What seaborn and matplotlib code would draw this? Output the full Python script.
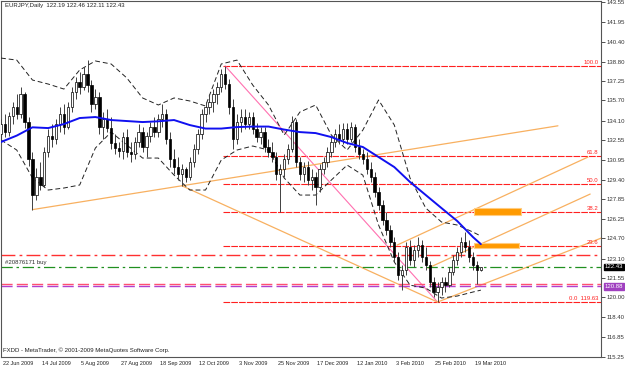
import matplotlib
matplotlib.use("Agg")
import matplotlib.pyplot as plt
import matplotlib.transforms as mtransforms
from matplotlib.patches import Rectangle
import numpy as np
import pandas as pd
import seaborn as sns

# ---------------- data ----------------
opens = [133.0, 133.8, 133.2, 134.5, 135.2, 134.6, 136.2, 134.0, 131.0, 128.2,
         129.6, 129.0, 131.6, 132.9, 132.6, 133.8, 134.6, 133.6, 135.2, 136.4,
         137.2, 136.8, 137.8, 136.9, 135.4, 136.0, 133.6, 134.2, 133.5, 132.3,
         131.9, 131.7, 132.8, 131.6, 131.4, 132.4, 133.2, 132.0, 132.9, 133.6,
         133.2, 134.2, 134.6, 132.6, 131.0, 130.4, 129.8, 130.2, 129.6, 130.8,
         131.8, 133.0, 134.6, 135.2, 135.6, 136.2, 136.8, 137.8, 137.0, 135.2,
         132.6, 134.0, 134.4, 133.8, 134.4, 133.4, 132.8, 133.2, 132.0, 131.6,
         131.2, 129.8, 130.2, 131.0, 131.8, 134.0, 130.8, 129.8, 130.4, 129.4,
         129.6, 128.8, 130.2, 130.8, 131.6, 132.4, 133.0, 132.6, 133.4, 132.6,
         133.6, 132.0, 131.4, 131.0, 130.2, 129.6, 128.4, 127.4, 126.2, 125.4,
         124.4, 123.2, 121.8, 122.2, 124.0, 123.0, 123.8, 124.2, 123.2, 122.6,
         121.2, 120.4, 120.8, 121.2, 121.0, 122.0, 123.0, 123.6, 124.4, 124.0,
         123.2, 122.6, 122.19]
highs = [134.2, 134.6, 134.8, 135.6, 136.2, 136.8, 136.4, 134.4, 131.6, 130.3,
         130.8, 132.0, 133.4, 133.8, 134.2, 135.2, 135.4, 135.6, 136.8, 137.6,
         138.0, 138.4, 138.9, 137.3, 136.6, 136.4, 134.8, 135.0, 134.4, 133.0,
         132.4, 133.2, 133.4, 132.4, 132.8, 133.8, 133.6, 133.2, 134.0, 134.4,
         134.6, 135.4, 135.0, 133.2, 131.8, 131.2, 130.6, 130.4, 131.2, 132.2,
         133.4, 135.0, 135.6, 136.2, 136.6, 137.2, 138.2, 138.45, 137.4, 135.8,
         134.6, 135.0, 135.0, 134.8, 134.8, 133.9, 133.6, 133.6, 132.6, 132.4,
         131.6, 130.6, 131.4, 132.2, 134.5, 134.2, 131.2, 130.8, 130.9, 130.2,
         130.0, 130.6, 131.2, 132.0, 132.8, 133.4, 133.8, 133.9, 133.9, 134.0,
         133.8, 132.6, 131.8, 131.6, 130.8, 130.0, 128.8, 127.8, 126.8, 125.8,
         124.8, 123.6, 122.6, 124.4, 124.6, 124.2, 124.8, 124.6, 124.0, 122.9,
         121.6, 121.2, 121.6, 121.6, 122.4, 123.4, 124.0, 124.8, 125.2, 124.6,
         123.6, 122.9, 122.46]
lows = [132.4, 132.8, 132.9, 133.8, 134.2, 134.3, 133.5, 130.5, 127.0, 127.8,
        128.6, 128.8, 131.2, 132.0, 132.2, 133.2, 133.0, 133.4, 134.8, 135.8,
        136.2, 136.5, 136.4, 134.8, 135.0, 133.0, 132.6, 133.2, 131.8, 131.4,
        131.2, 131.0, 131.2, 130.8, 131.0, 132.0, 131.6, 131.2, 132.4, 132.8,
        132.8, 133.6, 132.2, 130.4, 129.8, 129.4, 128.9, 129.2, 129.4, 130.4,
        131.4, 132.6, 134.0, 134.6, 134.8, 135.4, 136.4, 136.6, 134.6, 131.8,
        132.2, 133.2, 133.4, 133.4, 133.0, 132.4, 132.2, 131.6, 131.2, 130.8,
        129.4, 126.8, 129.6, 130.6, 131.6, 130.4, 129.4, 129.2, 129.0, 128.6,
        127.4, 128.4, 129.8, 130.4, 131.2, 132.0, 132.2, 132.2, 132.2, 132.4,
        131.6, 131.0, 130.6, 129.8, 129.2, 128.0, 127.0, 125.8, 125.0, 124.0,
        122.8, 121.4, 120.6, 121.8, 122.6, 122.4, 123.2, 122.8, 122.2, 120.8,
        120.0, 119.63, 120.2, 120.4, 120.8, 121.8, 122.6, 123.2, 123.6, 122.8,
        122.2, 121.1, 122.11]
closes = [133.8, 133.2, 134.5, 135.2, 134.6, 136.2, 134.0, 131.0, 128.2, 129.6,
          129.0, 131.6, 132.9, 132.6, 133.8, 134.6, 133.6, 135.2, 136.4, 137.2,
          136.8, 137.8, 136.9, 135.4, 136.0, 133.6, 134.2, 133.5, 132.3, 131.9,
          131.7, 132.8, 131.6, 131.4, 132.4, 133.2, 132.0, 132.9, 133.6, 133.2,
          134.2, 134.6, 132.6, 131.0, 130.4, 129.8, 130.2, 129.6, 130.8, 131.8,
          133.0, 134.6, 135.2, 135.6, 136.2, 136.8, 137.8, 137.0, 135.2, 132.6,
          134.0, 134.4, 133.8, 134.4, 133.4, 132.8, 133.2, 132.0, 131.6, 131.2,
          129.8, 130.2, 131.0, 131.8, 134.0, 130.8, 129.8, 130.4, 129.4, 129.6,
          128.8, 130.2, 130.8, 131.6, 132.4, 133.0, 132.6, 133.4, 132.6, 133.6,
          132.0, 131.4, 131.0, 130.2, 129.6, 128.4, 127.4, 126.2, 125.4, 124.4,
          123.2, 121.8, 122.2, 124.0, 123.0, 123.8, 124.2, 123.2, 122.6, 121.2,
          120.4, 120.8, 121.2, 121.0, 122.0, 123.0, 123.6, 124.4, 124.0, 123.2,
          122.6, 122.2, 122.43]

date_labels = ["22 Jun 2009", "14 Jul 2009", "5 Aug 2009", "27 Aug 2009",
               "18 Sep 2009", "12 Oct 2009", "3 Nov 2009", "25 Nov 2009",
               "17 Dec 2009", "12 Jan 2010", "3 Feb 2010", "25 Feb 2010",
               "19 Mar 2010"]
bars_per_label = 10

ma_idx = [0, 4, 8, 12, 16, 20, 24, 28, 32, 36, 40, 44, 48, 52, 56, 60, 64, 68,
          72, 76, 80, 84, 88, 92, 96, 100, 104, 108, 112, 116, 120, 122]
ma_vals = [132.39, 132.90, 133.56, 133.50, 133.82, 134.30, 134.38, 134.14,
           134.06, 133.98, 134.04, 134.14, 133.74, 133.46, 133.46, 133.58,
           133.62, 133.62, 133.38, 133.18, 133.10, 132.78, 132.31, 131.99,
           131.19, 130.39, 129.20, 128.16, 127.12, 126.09, 124.81, 124.25]
bb_upper = [139.08, 138.92, 137.33, 137.01, 136.61, 138.13, 138.85, 138.61,
            137.49, 135.90, 135.34, 135.90, 135.66, 135.26, 138.61, 138.92,
            136.93, 135.34, 132.94, 134.78, 135.34, 132.94, 131.75, 133.34,
            135.74, 133.74, 129.51, 127.12, 126.01, 125.77, 125.21, 124.89]
bb_lower = [132.55, 131.75, 129.52, 128.56, 128.72, 128.96, 131.91, 133.18,
            132.15, 131.11, 131.11, 129.75, 128.56, 128.56, 130.95, 131.75,
            132.07, 131.75, 129.52, 128.16, 128.16, 129.36, 130.55, 129.75,
            125.77, 122.82, 120.98, 120.74, 119.95, 120.11, 120.43, 120.58]

fib_levels = [0.0, 23.6, 38.2, 50.0, 61.8, 100.0]
fib_hi_idx, fib_hi = 57, 138.45
fib_lo_idx, fib_lo = 111, 119.63

# trend lines: (start index, start price, end index, end price)
trend_lines = [(8, 127.0, 141.6, 133.68),
               (46, 128.9, 111, 119.63),
               (111, 119.63, 152.6, 124.73),
               (108.6, 122.34, 149.8, 128.24),
               (100.7, 124.17, 149.25, 131.19)]
zones = [(120.3, 132.3, 126.56, 127.12), (120.3, 131.8, 123.93, 124.33)]

level_red_dashdot = 123.37
order_price = 122.43
level_red_dash = 121.05
level_purple = 120.88
y_ticks = [115.25, 116.85, 118.40, 120.00, 121.55, 123.10, 124.70, 126.25,
           127.85, 129.40, 130.95, 132.55, 134.10, 135.70, 137.25, 138.80,
           140.40, 141.95, 143.55]

# ---------------- drawing ----------------
sns.set_style("white")
plt.rcParams["font.family"] = ["Liberation Sans", "DejaVu Sans"]
FS = 4.3

W, H = 625, 368
fig = plt.figure(figsize=(W / 100, H / 100), dpi=100)
ax = fig.add_axes([1 / W, 11 / H, 600 / W, 356 / H])
ax.set_xlim(0, 152.55)
ax.set_ylim(115.25, 143.63)

df = pd.DataFrame({"o": opens, "h": highs, "l": lows, "c": closes})
df["i"] = np.arange(len(df))

# fibonacci levels
for lv in fib_levels:
    p = fib_lo + (fib_hi - fib_lo) * lv / 100.0
    ax.plot([fib_hi_idx - 0.5, 152.55], [p, p], color="#FF2020", lw=0.8,
            dashes=(6, 1), zorder=1)
    lab = f"{lv:.1f}" if lv != 0 else f"0.0  {fib_lo:.2f}"
    ax.text(151.9, p + 0.08, lab, color="#FF2020", fontsize=FS, ha="right",
            va="bottom", zorder=6)
ax.plot([fib_hi_idx, fib_lo_idx], [fib_hi, fib_lo], color="#FF70B0", lw=0.8,
        zorder=1)

# trend lines
for x0, y0, x1, y1 in trend_lines:
    ax.plot([x0, x1], [y0, y1], color="#F8B060", lw=0.9, zorder=1)

# zones
for x0, x1, y0, y1 in zones:
    ax.add_patch(Rectangle((x0, y0), x1 - x0, y1 - y0, facecolor="#FF9A00",
                           edgecolor="#FFCC80", lw=0.8, zorder=2))

# horizontal order lines
ax.axhline(level_red_dashdot, color="#FF3030", lw=1.0, dashes=(10, 3, 2, 3), zorder=1)
ax.axhline(order_price, color="#209020", lw=0.9, dashes=(9, 3, 2, 3), zorder=1)
ax.axhline(level_red_dash, color="#FF5070", lw=1.0, dashes=(8, 3), zorder=1)
ax.axhline(level_purple, color="#B040D0", lw=1.0, dashes=(8, 3), zorder=1)

# bollinger bands
sns.lineplot(x=ma_idx, y=bb_upper, ax=ax, color="#222222", lw=0.7,
             linestyle=(0, (5, 3)), zorder=3)
sns.lineplot(x=ma_idx, y=bb_lower, ax=ax, color="#222222", lw=0.7,
             linestyle=(0, (5, 3)), zorder=3)

# candles
ax.vlines(df["i"], df["l"], df["h"], color="#404040", lw=0.7, zorder=4)
up = df["c"] >= df["o"]
ax.bar(df["i"][up], (df["c"] - df["o"])[up], bottom=df["o"][up], width=0.6,
       color="white", edgecolor="black", lw=0.5, zorder=5)
ax.bar(df["i"][~up], (df["o"] - df["c"])[~up], bottom=df["c"][~up], width=0.6,
       color="black", edgecolor="black", lw=0.5, zorder=5)

# moving average
sns.lineplot(x=ma_idx, y=ma_vals, ax=ax, color="#1010F0", lw=1.4, zorder=6)

# axes styling
for s in ["top", "left", "bottom", "right"]:
    ax.spines[s].set_color("#555555")
    ax.spines[s].set_linewidth(0.8)
ax.yaxis.tick_right()
ax.set_yticks(y_ticks)
ax.set_yticklabels([f"{v:.2f}" for v in y_ticks])
ax.tick_params(axis="y", length=3, width=0.6, pad=1, labelsize=FS,
               colors="#333333")
xt = [k * bars_per_label for k in range(len(date_labels))]
ax.set_xticks(xt)
ax.set_xticklabels([])
ax.tick_params(axis="x", length=3, width=0.6, direction="out", colors="#333333")
for k, lab in zip(xt, date_labels):
    ax.text(k + 0.4, -0.012, lab, transform=ax.get_xaxis_transform(),
            fontsize=4.0, ha="left", va="top", color="#222222", clip_on=False)
ax.set_xlabel("")
ax.set_ylabel("")

trans = mtransforms.blended_transform_factory(ax.transAxes, ax.transData)
ax.text(1.006, order_price, f"{order_price:.2f}", transform=trans, fontsize=FS,
        color="white", va="center", ha="left", zorder=10, clip_on=False,
        bbox=dict(boxstyle="square,pad=0.15", fc="black", ec="black"))
ax.text(1.006, level_purple, f"{level_purple:.2f}", transform=trans, fontsize=FS,
        color="white", va="center", ha="left", zorder=10, clip_on=False,
        bbox=dict(boxstyle="square,pad=0.15", fc="#A040C0", ec="#A040C0"))

ax.text(0.006, order_price + 0.12, "#20876171 buy", transform=trans,
        fontsize=FS, color="#303030", va="bottom", ha="left")
ax.text(0.006, 0.993, "EURJPY,Daily  122.19 122.46 122.11 122.43",
        transform=ax.transAxes, fontsize=FS, va="top", ha="left", color="#222222")
ax.text(0.004, 0.01, "FXDD - MetaTrader, \u00a9 2001-2009 MetaQuotes Software Corp.",
        transform=ax.transAxes, fontsize=FS, va="bottom", ha="left", color="#222222")

fig.savefig("out.png", dpi=100)
